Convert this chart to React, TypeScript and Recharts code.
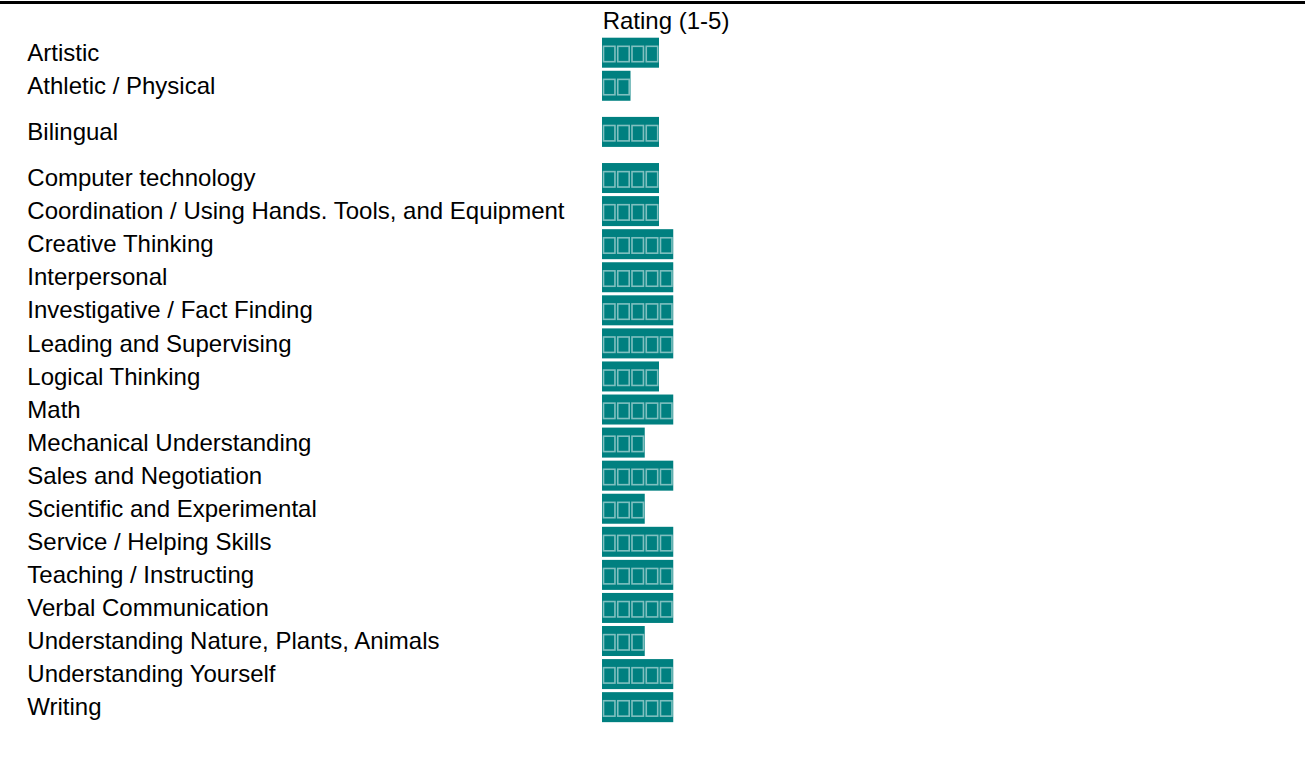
import React from 'react';
import { BarChart, Bar, XAxis, YAxis } from 'recharts';

// ---- data ----
const skills: string[] = [
  'Artistic',
  'Athletic / Physical',
  'Bilingual',
  'Computer technology',
  'Coordination / Using Hands. Tools, and Equipment',
  'Creative Thinking',
  'Interpersonal',
  'Investigative / Fact Finding',
  'Leading and Supervising',
  'Logical Thinking',
  'Math',
  'Mechanical Understanding',
  'Sales and Negotiation',
  'Scientific and Experimental',
  'Service / Helping Skills',
  'Teaching / Instructing',
  'Verbal Communication',
  'Understanding Nature, Plants, Animals',
  'Understanding Yourself',
  'Writing',
];
const ratings: number[] = [4, 2, 4, 4, 4, 5, 5, 5, 5, 4, 5, 3, 5, 3, 5, 5, 5, 3, 5, 5];
const headerLabel = 'Rating (1-5)';
const ratingDomain: [number, number] = [0, 5];

// ---- layout / style ----
const W = 1306;
const H = 759;
const FONT = '"Liberation Sans", Arial, Helvetica, sans-serif';
const FONT_SIZE = 24;
const ROW_PX = 33.07;
const TALL_ROW = 'Bilingual';
const TALL_ROW_SPAN = 1.79; // this table row holds an extra text line
const TOP_AXIS_H = 35.7;
const PLOT_LEFT = 602;
const UNIT_PX = 14.25;
const LABEL_X = 27.3;
const TEAL = '#008080';

let acc = 0;
const rows = skills.map((skill, i) => {
  const span = skill === TALL_ROW ? TALL_ROW_SPAN : 1;
  const pos = acc + span / 2;
  acc += span;
  return { skill, rating: ratings[i], pos };
});
const totalSpan = acc;
const plotH = totalSpan * ROW_PX;
const plotW = (ratingDomain[1] - ratingDomain[0]) * UNIT_PX;

const nameAt = (v: number) => {
  const r = rows.find((row) => Math.abs(row.pos - v) < 1e-6);
  return r ? r.skill : '';
};

const SkillTick = (props: any) => {
  const { y, payload } = props;
  return (
    <text
      x={LABEL_X}
      y={y + 8.6}
      textAnchor="start"
      fontFamily={FONT}
      fontSize={FONT_SIZE}
      fill="#000"
    >
      {nameAt(payload.value)}
    </text>
  );
};

const TofuBar = (props: any) => {
  const { x, y, width, height, payload } = props;
  if (!width || width <= 0) return null;
  const n = payload.rating;
  const cell = width / n;
  const boxes = [];
  for (let i = 0; i < n; i++) {
    boxes.push(
      <rect
        key={i}
        x={x + i * cell + 1.5}
        y={y + 8.6}
        width={cell - 2.8}
        height={height - 14.6}
        fill="none"
        stroke="rgba(255,255,255,0.5)"
        strokeWidth={1.6}
      />
    );
  }
  return (
    <g>
      <rect x={x} y={y} width={width} height={height} fill={TEAL} />
      {boxes}
    </g>
  );
};

const HeaderLabel = (props: any) => {
  const vb = props.viewBox || {};
  return (
    <text
      x={(vb.x ?? PLOT_LEFT) + 0.7}
      y={(vb.y ?? 0) + (vb.height ?? TOP_AXIS_H) - 6.9}
      textAnchor="start"
      fontFamily={FONT}
      fontSize={FONT_SIZE}
      fill="#000"
    >
      {headerLabel}
    </text>
  );
};

export default function App() {
  return (
    <div
      style={{
        position: 'absolute',
        left: 0,
        top: 0,
        width: W,
        height: H,
        background: '#fff',
        overflow: 'hidden',
      }}
    >
      <div
        style={{
          position: 'absolute',
          left: 0,
          top: 1,
          width: 1305,
          height: 3,
          background: '#000',
        }}
      />
      <BarChart
        width={W}
        height={H}
        data={rows}
        layout="vertical"
        margin={{ top: 0, left: 0, right: W - PLOT_LEFT - plotW, bottom: H - TOP_AXIS_H - plotH }}
      >
        <XAxis
          type="number"
          orientation="top"
          domain={ratingDomain}
          height={TOP_AXIS_H}
          axisLine={false}
          tickLine={false}
          tick={false}
          label={<HeaderLabel />}
        />
        <YAxis
          type="number"
          dataKey="pos"
          domain={[0, totalSpan]}
          width={PLOT_LEFT}
          ticks={rows.map((r) => r.pos)}
          interval={0}
          axisLine={false}
          tickLine={false}
          tick={<SkillTick />}
          allowDecimals
        />
        <Bar dataKey="rating" barSize={30} isAnimationActive={false} shape={<TofuBar />} />
      </BarChart>
    </div>
  );
}
